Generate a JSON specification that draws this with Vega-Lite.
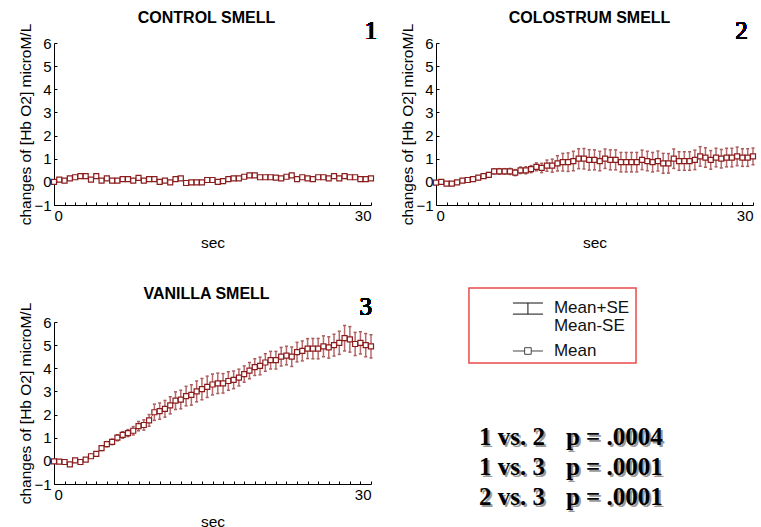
{
"$schema": "https://vega.github.io/schema/vega-lite/v6.json",
"padding": {"left": 18, "top": 10, "right": 0, "bottom": 0},
"background": "white",
"datasets": {
"control": [
{"t":0,"m":0,"s":0.03},{"t":0.5,"m":0.1,"s":0.03},{"t":1,"m":0.05,"s":0.03},{"t":1.5,"m":0.15,"s":0.03},{"t":2,"m":0.2,"s":0.03},{"t":2.5,"m":0.25,"s":0.03},{"t":3,"m":0.25,"s":0.03},{"t":3.5,"m":0.1,"s":0.03},{"t":4,"m":0.25,"s":0.03},{"t":4.5,"m":0.05,"s":0.03},
{"t":5,"m":0.15,"s":0.03},{"t":5.5,"m":0.05,"s":0.03},{"t":6,"m":0.05,"s":0.03},{"t":6.5,"m":0.12,"s":0.03},{"t":7,"m":0.12,"s":0.03},{"t":7.5,"m":0.05,"s":0.03},{"t":8,"m":0.17,"s":0.03},{"t":8.5,"m":0.05,"s":0.03},{"t":9,"m":0.12,"s":0.03},{"t":9.5,"m":0.12,"s":0.03},
{"t":10,"m":0.0,"s":0.03},{"t":10.5,"m":0.05,"s":0.03},{"t":11,"m":-0.02,"s":0.03},{"t":11.5,"m":0.12,"s":0.03},{"t":12,"m":0.15,"s":0.03},{"t":12.5,"m":-0.05,"s":0.03},{"t":13,"m":-0.02,"s":0.03},{"t":13.5,"m":-0.02,"s":0.03},{"t":14,"m":-0.02,"s":0.03},{"t":14.5,"m":0.08,"s":0.03},
{"t":15,"m":0.08,"s":0.03},{"t":15.5,"m":0.0,"s":0.03},{"t":16,"m":0.03,"s":0.03},{"t":16.5,"m":0.12,"s":0.03},{"t":17,"m":0.15,"s":0.03},{"t":17.5,"m":0.15,"s":0.03},{"t":18,"m":0.22,"s":0.03},{"t":18.5,"m":0.28,"s":0.03},{"t":19,"m":0.28,"s":0.03},{"t":19.5,"m":0.2,"s":0.03},
{"t":20,"m":0.2,"s":0.03},{"t":20.5,"m":0.2,"s":0.03},{"t":21,"m":0.18,"s":0.03},{"t":21.5,"m":0.15,"s":0.03},{"t":22,"m":0.22,"s":0.03},{"t":22.5,"m":0.28,"s":0.03},{"t":23,"m":0.12,"s":0.03},{"t":23.5,"m":0.2,"s":0.03},{"t":24,"m":0.15,"s":0.03},{"t":24.5,"m":0.12,"s":0.03},
{"t":25,"m":0.2,"s":0.03},{"t":25.5,"m":0.2,"s":0.03},{"t":26,"m":0.15,"s":0.03},{"t":26.5,"m":0.25,"s":0.03},{"t":27,"m":0.15,"s":0.03},{"t":27.5,"m":0.25,"s":0.03},{"t":28,"m":0.2,"s":0.03},{"t":28.5,"m":0.2,"s":0.03},{"t":29,"m":0.12,"s":0.03},{"t":29.5,"m":0.12,"s":0.03},
{"t":30,"m":0.15,"s":0.03}
],
"colostrum": [
{"t":0,"m":-0.03,"s":0.03},{"t":0.5,"m":0.0,"s":0.03},{"t":1,"m":-0.08,"s":0.03},{"t":1.5,"m":-0.08,"s":0.04},{"t":2,"m":-0.02,"s":0.04},{"t":2.5,"m":0.05,"s":0.05},{"t":3,"m":0.08,"s":0.06},{"t":3.5,"m":0.12,"s":0.07},{"t":4,"m":0.18,"s":0.08},{"t":4.5,"m":0.25,"s":0.09},
{"t":5,"m":0.3,"s":0.1},{"t":5.5,"m":0.45,"s":0.11},{"t":6,"m":0.45,"s":0.12},{"t":6.5,"m":0.45,"s":0.12},{"t":7,"m":0.45,"s":0.13},{"t":7.5,"m":0.4,"s":0.13},{"t":8,"m":0.5,"s":0.14},{"t":8.5,"m":0.5,"s":0.15},{"t":9,"m":0.55,"s":0.15},{"t":9.5,"m":0.65,"s":0.17},
{"t":10,"m":0.6,"s":0.2},{"t":10.5,"m":0.7,"s":0.24},{"t":11,"m":0.7,"s":0.28},{"t":11.5,"m":0.8,"s":0.33},{"t":12,"m":0.85,"s":0.38},{"t":12.5,"m":0.85,"s":0.4},{"t":13,"m":0.9,"s":0.42},{"t":13.5,"m":1.0,"s":0.43},{"t":14,"m":1.0,"s":0.44},{"t":14.5,"m":0.95,"s":0.44},
{"t":15,"m":0.95,"s":0.43},{"t":15.5,"m":0.9,"s":0.42},{"t":16,"m":1.0,"s":0.42},{"t":16.5,"m":0.95,"s":0.43},{"t":17,"m":0.95,"s":0.43},{"t":17.5,"m":0.85,"s":0.42},{"t":18,"m":0.85,"s":0.42},{"t":18.5,"m":0.85,"s":0.42},{"t":19,"m":0.85,"s":0.42},{"t":19.5,"m":0.95,"s":0.42},
{"t":20,"m":0.9,"s":0.42},{"t":20.5,"m":0.85,"s":0.42},{"t":21,"m":0.9,"s":0.43},{"t":21.5,"m":0.8,"s":0.43},{"t":22,"m":0.8,"s":0.42},{"t":22.5,"m":1.0,"s":0.42},{"t":23,"m":0.9,"s":0.4},{"t":23.5,"m":0.9,"s":0.4},{"t":24,"m":0.9,"s":0.4},{"t":24.5,"m":0.95,"s":0.42},
{"t":25,"m":1.1,"s":0.42},{"t":25.5,"m":1.05,"s":0.42},{"t":26,"m":0.95,"s":0.4},{"t":26.5,"m":1.05,"s":0.4},{"t":27,"m":1.0,"s":0.4},{"t":27.5,"m":1.05,"s":0.4},{"t":28,"m":1.05,"s":0.4},{"t":28.5,"m":1.1,"s":0.4},{"t":29,"m":1.05,"s":0.38},{"t":29.5,"m":1.05,"s":0.38},
{"t":30,"m":1.1,"s":0.36}
],
"vanilla": [
{"t":0,"m":-0.02,"s":0.03},{"t":0.5,"m":-0.03,"s":0.03},{"t":1,"m":-0.05,"s":0.04},{"t":1.5,"m":-0.15,"s":0.04},{"t":2,"m":0.02,"s":0.05},{"t":2.5,"m":-0.05,"s":0.05},{"t":3,"m":0.05,"s":0.06},{"t":3.5,"m":0.2,"s":0.08},{"t":4,"m":0.3,"s":0.09},{"t":4.5,"m":0.55,"s":0.1},
{"t":5,"m":0.72,"s":0.11},{"t":5.5,"m":0.82,"s":0.12},{"t":6,"m":1.0,"s":0.13},{"t":6.5,"m":1.12,"s":0.14},{"t":7,"m":1.2,"s":0.15},{"t":7.5,"m":1.3,"s":0.18},{"t":8,"m":1.5,"s":0.2},{"t":8.5,"m":1.55,"s":0.22},{"t":9,"m":1.75,"s":0.25},{"t":9.5,"m":2.1,"s":0.35},
{"t":10,"m":2.15,"s":0.35},{"t":10.5,"m":2.25,"s":0.36},{"t":11,"m":2.4,"s":0.37},{"t":11.5,"m":2.6,"s":0.38},{"t":12,"m":2.65,"s":0.4},{"t":12.5,"m":2.8,"s":0.42},{"t":13,"m":2.85,"s":0.44},{"t":13.5,"m":3.0,"s":0.45},{"t":14,"m":3.1,"s":0.46},{"t":14.5,"m":3.2,"s":0.46},
{"t":15,"m":3.3,"s":0.45},{"t":15.5,"m":3.35,"s":0.44},{"t":16,"m":3.35,"s":0.42},{"t":16.5,"m":3.45,"s":0.4},{"t":17,"m":3.5,"s":0.38},{"t":17.5,"m":3.6,"s":0.36},{"t":18,"m":3.75,"s":0.35},{"t":18.5,"m":3.9,"s":0.35},{"t":19,"m":4.05,"s":0.36},{"t":19.5,"m":4.1,"s":0.38},
{"t":20,"m":4.25,"s":0.38},{"t":20.5,"m":4.35,"s":0.38},{"t":21,"m":4.35,"s":0.38},{"t":21.5,"m":4.5,"s":0.4},{"t":22,"m":4.55,"s":0.4},{"t":22.5,"m":4.5,"s":0.42},{"t":23,"m":4.7,"s":0.42},{"t":23.5,"m":4.75,"s":0.43},{"t":24,"m":4.85,"s":0.43},{"t":24.5,"m":4.85,"s":0.44},
{"t":25,"m":4.85,"s":0.44},{"t":25.5,"m":4.95,"s":0.45},{"t":26,"m":4.9,"s":0.46},{"t":26.5,"m":5.0,"s":0.47},{"t":27,"m":5.1,"s":0.5},{"t":27.5,"m":5.3,"s":0.55},{"t":28,"m":5.25,"s":0.55},{"t":28.5,"m":5.05,"s":0.5},{"t":29,"m":5.1,"s":0.48},{"t":29.5,"m":5.0,"s":0.5},
{"t":30,"m":4.95,"s":0.5}
]
},
"config": {
"view": {"stroke": null},
"font": "Liberation Sans",
"axis": {"grid": false, "domainColor": "#000", "tickColor": "#000", "labelColor": "#000", "titleColor": "#000", "labelFont": "Liberation Sans", "titleFont": "Liberation Sans", "labelFontSize": 15, "titleFontSize": 15.5, "titleFontWeight": "normal"},
"title": {"font": "Liberation Sans", "fontSize": 16, "fontWeight": "bold", "color": "#000"}
},
"columns": 2,
"bounds": "flush",
"spacing": {"row": 117, "column": 65},
"concat": [
{
"width": 317, "height": 162,
"title": {"text": "CONTROL SMELL", "offset": -7, "frame": "group", "dx": -6},
"data": {"name": "control"},
"encoding": {
"x": {"field": "t", "type": "quantitative", "scale": {"domain": [0, 30], "nice": false}, "axis": {"title": "sec", "values": [0,1,2,3,4,5,6,7,8,9,10,11,12,13,14,15,16,17,18,19,20,21,22,23,24,25,26,27,28,29,30], "labelExpr": "datum.value == 0 || datum.value == 30 ? datum.label : ''", "tickSize": -3, "labelPadding": 6, "titlePadding": 12, "labelOverlap": false}},
"y": {"field": "m", "type": "quantitative", "scale": {"domain": [-1, 6], "nice": false}, "axis": {"title": "changes of [Hb O2] microM/L", "values": [-1,0,1,2,3,4,5,6], "tickSize": -3, "labelPadding": 6, "titlePadding": 0}}
},
"layer": [
{"mark": {"type": "errorbar", "ticks": {"color": "#7a0a0a", "size": 3, "thickness": 1.5}, "rule": {"color": "#b86a6a", "strokeWidth": 1.5}}, "encoding": {"yError": {"field": "s"}}},
{"mark": {"type": "line", "color": "#a04848", "strokeWidth": 1}},
{"mark": {"type": "point", "shape": "square", "size": 25, "filled": true, "fill": "white", "stroke": "#8b1c1c", "strokeWidth": 1.2, "opacity": 1}},
{"mark": {"type": "text", "text": "1", "font": "Liberation Serif", "fontSize": 25, "fontWeight": 400, "color": "#000", "clip": false}, "encoding": {"x": {"datum": 30.0}, "y": {"datum": 6.5}}}
]
},
{
"width": 317, "height": 162,
"title": {"text": "COLOSTRUM SMELL", "offset": -7, "frame": "group", "dx": -5},
"data": {"name": "colostrum"},
"encoding": {
"x": {"field": "t", "type": "quantitative", "scale": {"domain": [0, 30], "nice": false}, "axis": {"title": "sec", "values": [0,1,2,3,4,5,6,7,8,9,10,11,12,13,14,15,16,17,18,19,20,21,22,23,24,25,26,27,28,29,30], "labelExpr": "datum.value == 0 || datum.value == 30 ? datum.label : ''", "tickSize": -3, "labelPadding": 6, "titlePadding": 12, "labelOverlap": false}},
"y": {"field": "m", "type": "quantitative", "scale": {"domain": [-1, 6], "nice": false}, "axis": {"title": "changes of [Hb O2] microM/L", "values": [-1,0,1,2,3,4,5,6], "tickSize": -3, "labelPadding": 6, "titlePadding": 0}}
},
"layer": [
{"mark": {"type": "errorbar", "ticks": {"color": "#7a0a0a", "size": 3, "thickness": 1.5}, "rule": {"color": "#b86a6a", "strokeWidth": 1.5}}, "encoding": {"yError": {"field": "s"}}},
{"mark": {"type": "line", "color": "#a04848", "strokeWidth": 1}},
{"mark": {"type": "point", "shape": "square", "size": 25, "filled": true, "fill": "white", "stroke": "#8b1c1c", "strokeWidth": 1.2, "opacity": 1}},
{"mark": {"type": "text", "text": "2", "font": "Liberation Serif", "fontSize": 25, "fontWeight": 400, "color": "#000", "clip": false}, "encoding": {"x": {"datum": 28.9}, "y": {"datum": 6.5}}}
]
},
{
"width": 317, "height": 162,
"title": {"text": "VANILLA SMELL", "offset": -7, "frame": "group", "dx": -6},
"data": {"name": "vanilla"},
"encoding": {
"x": {"field": "t", "type": "quantitative", "scale": {"domain": [0, 30], "nice": false}, "axis": {"title": "sec", "values": [0,1,2,3,4,5,6,7,8,9,10,11,12,13,14,15,16,17,18,19,20,21,22,23,24,25,26,27,28,29,30], "labelExpr": "datum.value == 0 || datum.value == 30 ? datum.label : ''", "tickSize": -3, "labelPadding": 6, "titlePadding": 12, "labelOverlap": false}},
"y": {"field": "m", "type": "quantitative", "scale": {"domain": [-1, 6], "nice": false}, "axis": {"title": "changes of [Hb O2] microM/L", "values": [-1,0,1,2,3,4,5,6], "tickSize": -3, "labelPadding": 6, "titlePadding": 0}}
},
"layer": [
{"mark": {"type": "errorbar", "ticks": {"color": "#7a0a0a", "size": 3, "thickness": 1.5}, "rule": {"color": "#b86a6a", "strokeWidth": 1.5}}, "encoding": {"yError": {"field": "s"}}},
{"mark": {"type": "line", "color": "#a04848", "strokeWidth": 1}},
{"mark": {"type": "point", "shape": "square", "size": 25, "filled": true, "fill": "white", "stroke": "#8b1c1c", "strokeWidth": 1.2, "opacity": 1}},
{"mark": {"type": "text", "text": "3", "font": "Liberation Serif", "fontSize": 25, "fontWeight": 400, "color": "#000", "clip": false}, "encoding": {"x": {"datum": 29.5}, "y": {"datum": 6.64}}}
]
},
{
"width": 317, "height": 162,
"data": {"values": [{}]},
"layer": [
{"mark": {"type": "rect", "fill": "white", "stroke": "#e84a4a", "strokeWidth": 1.5, "clip": false},
 "encoding": {"x": {"datum": 0.104, "type": "quantitative", "scale": {"domain": [0, 1], "nice": false, "zero": false}, "axis": null}, "x2": {"datum": 0.631}, "y": {"datum": 1.21, "type": "quantitative", "scale": {"domain": [0, 1], "nice": false, "zero": false}, "axis": null}, "y2": {"datum": 0.747}}},
{"mark": {"type": "point", "shape": "M-1,-0.37H1M0,-0.37V0.37M-1,0.37H1", "size": 900, "filled": false, "stroke": "#111", "strokeWidth": 1, "opacity": 1, "clip": false},
 "encoding": {"x": {"datum": 0.29, "type": "quantitative"}, "y": {"datum": 1.083, "type": "quantitative"}}},
{"mark": {"type": "point", "shape": "M-1,0H-0.22M0.22,0H1M-0.22,-0.22H0.22V0.22H-0.22Z", "size": 900, "filled": true, "fill": "white", "stroke": "#444", "strokeWidth": 1, "opacity": 1, "clip": false},
 "encoding": {"x": {"datum": 0.29, "type": "quantitative"}, "y": {"datum": 0.821, "type": "quantitative"}}},
{"mark": {"type": "text", "text": ["Mean+SE", "Mean-SE"], "lineHeight": 18, "align": "left", "baseline": "middle", "font": "Liberation Sans", "fontSize": 17, "color": "#111", "clip": false},
 "encoding": {"x": {"datum": 0.372, "type": "quantitative"}, "y": {"datum": 1.086, "type": "quantitative"}}},
{"mark": {"type": "text", "text": "Mean", "align": "left", "baseline": "middle", "font": "Liberation Sans", "fontSize": 17, "color": "#111", "clip": false},
 "encoding": {"x": {"datum": 0.372, "type": "quantitative"}, "y": {"datum": 0.821, "type": "quantitative"}}},
{"mark": {"type": "text", "text": ["1 vs. 2", "1 vs. 3", "2 vs. 3"], "lineHeight": 30, "align": "left", "baseline": "middle", "font": "Liberation Serif", "fontSize": 25, "fontWeight": "bold", "color": "#9a9a9a", "dx": 2, "dy": 2, "clip": false},
 "encoding": {"x": {"datum": 0.136, "type": "quantitative"}, "y": {"datum": 0.29, "type": "quantitative"}}},
{"mark": {"type": "text", "text": ["p = .0004", "p = .0001", "p = .0001"], "lineHeight": 30, "align": "left", "baseline": "middle", "font": "Liberation Serif", "fontSize": 25, "fontWeight": "bold", "color": "#9a9a9a", "dx": 2, "dy": 2, "clip": false},
 "encoding": {"x": {"datum": 0.41, "type": "quantitative"}, "y": {"datum": 0.29, "type": "quantitative"}}},
{"mark": {"type": "text", "text": ["1 vs. 2", "1 vs. 3", "2 vs. 3"], "lineHeight": 30, "align": "left", "baseline": "middle", "font": "Liberation Serif", "fontSize": 25, "fontWeight": "bold", "color": "#000", "clip": false},
 "encoding": {"x": {"datum": 0.136, "type": "quantitative"}, "y": {"datum": 0.29, "type": "quantitative"}}},
{"mark": {"type": "text", "text": ["p = .0004", "p = .0001", "p = .0001"], "lineHeight": 30, "align": "left", "baseline": "middle", "font": "Liberation Serif", "fontSize": 25, "fontWeight": "bold", "color": "#000", "clip": false},
 "encoding": {"x": {"datum": 0.41, "type": "quantitative"}, "y": {"datum": 0.29, "type": "quantitative"}}}
]
}
]
}
